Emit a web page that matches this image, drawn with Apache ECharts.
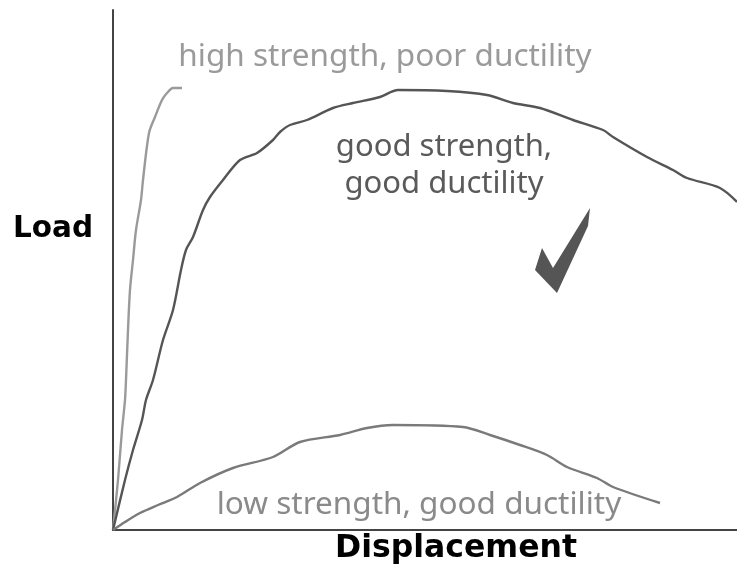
<!DOCTYPE html>
<html>
  <head>
    <meta charset="utf-8" />
    <title>Load vs Displacement</title>
    <script src="https://cdn.jsdelivr.net/npm/echarts@6.0.0/dist/echarts.min.js"></script>
  </head>
  <body style="margin: 0">
    <div id="main" style="width: 737px; height: 568px"></div>
    <script>
      // [displacement, load] (arbitrary units)
      var highStrength = [
        [0, 0], [5, 50], [9, 100], [12, 130], [13, 150], [15, 200], [17, 240],
        [20, 270], [23, 300], [28, 330], [30, 350], [36, 397], [42, 413],
        [49, 430], [54, 437], [60, 442], [69, 442]
      ];
      var goodStrength = [
        [0, 0], [12, 50], [20, 80], [29, 110], [33, 130], [40, 150], [50, 190],
        [60, 220], [68, 260], [73, 280], [80, 293], [90, 320], [97, 333],
        [110, 350], [127, 370], [144, 377], [160, 390], [167, 398], [177, 405],
        [194, 410], [220, 422], [240, 427], [267, 433], [285, 440], [334, 439],
        [374, 435], [400, 427], [427, 422], [460, 410], [490, 400], [500, 393],
        [534, 373], [560, 360], [574, 352], [607, 342], [624, 328]
      ];
      var lowStrength = [
        [0, 0], [12, 8], [27, 17], [45, 25], [64, 33], [87, 47], [120, 62],
        [160, 73], [187, 88], [227, 95], [254, 102], [280, 105], [350, 103],
        [377, 95], [407, 85], [434, 75], [454, 63], [484, 52], [500, 43],
        [547, 27]
      ];

      var seriesNames = [
        "high strength, poor ductility",
        "good strength, good ductility",
        "low strength, good ductility"
      ];
      var seriesColors = ["#9a9a9a", "#555555", "#7a7a7a"];
      var seriesData = [highStrength, goodStrength, lowStrength];

      var font = "Noto Sans, DejaVu Sans, sans-serif";
      var boldFont = "DejaVu Sans, sans-serif";

      var option = {
        animation: false,
        backgroundColor: "#ffffff",
        grid: { left: 113, right: 0, top: 10, bottom: 38 },
        xAxis: {
          type: "value",
          min: 0,
          max: 624,
          axisLine: { show: true, lineStyle: { color: "#444", width: 2 } },
          axisTick: { show: false },
          axisLabel: { show: false },
          splitLine: { show: false }
        },
        yAxis: {
          type: "value",
          min: 0,
          max: 520,
          axisLine: { show: true, lineStyle: { color: "#444", width: 2 } },
          axisTick: { show: false },
          axisLabel: { show: false },
          splitLine: { show: false }
        },
        series: seriesData.map(function (d, i) {
          return {
            name: seriesNames[i],
            type: "line",
            data: d,
            showSymbol: false,
            smooth: 0.3,
            lineStyle: { color: seriesColors[i], width: 2.4 }
          };
        }),
        graphic: [
          {
            type: "text",
            x: 385, y: 57,
            style: {
              text: "high strength, poor ductility",
              font: "31.5px " + font, fill: "#9a9a9a",
              textAlign: "center", textVerticalAlign: "middle"
            }
          },
          {
            type: "text",
            x: 444, y: 166,
            style: {
              text: "good strength,\ngood ductility",
              font: "31px " + font, fill: "#5a5a5a", lineHeight: 37,
              textAlign: "center", textVerticalAlign: "middle"
            }
          },
          {
            type: "text",
            x: 419, y: 505,
            style: {
              text: "low strength, good ductility",
              font: "31.5px " + font, fill: "#8a8a8a",
              textAlign: "center", textVerticalAlign: "middle"
            }
          },
          {
            type: "text",
            x: 53, y: 229,
            style: {
              text: "Load",
              font: "bold 29.5px " + boldFont, fill: "#000",
              textAlign: "center", textVerticalAlign: "middle"
            }
          },
          {
            type: "text",
            x: 456, y: 549,
            style: {
              text: "Displacement",
              font: "bold 31.5px " + boldFont, fill: "#000",
              textAlign: "center", textVerticalAlign: "middle"
            }
          },
          {
            // check mark
            type: "polygon",
            shape: {
              points: [[535, 270], [542, 248], [553, 268], [590, 208], [588, 226], [557, 293]]
            },
            style: { fill: "#555" }
          }
        ]
      };

      var myChart = echarts.init(document.getElementById("main"));
      myChart.setOption(option);
    </script>
  </body>
</html>
